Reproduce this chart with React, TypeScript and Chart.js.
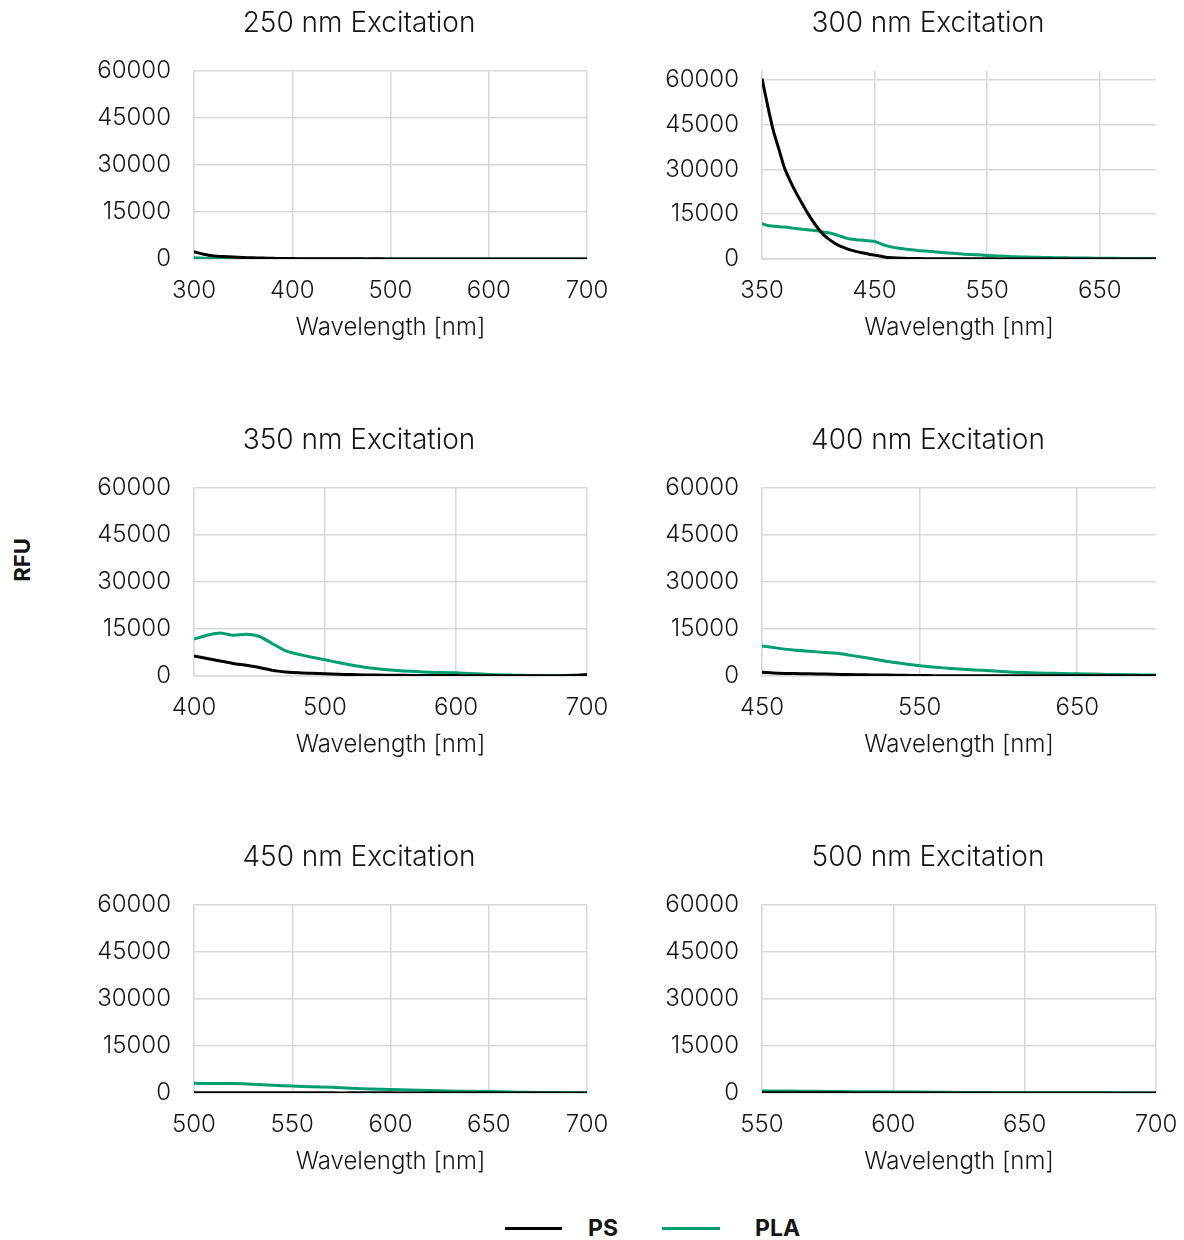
import React, { useEffect, useRef } from 'react';
import { Chart, registerables } from 'chart.js';

Chart.register(...registerables);

const FONT = 'Inter, Lato, "Open Sans", sans-serif';
const TEXT = '#151515';
const GRID = '#d9d9d9';
const PS_COLOR = '#000000';
const PLA_COLOR = '#009E73';

// ---------- data ----------
const SERIES_NAMES = ['PS', 'PLA'];
const Y_TICKS = [0, 15000, 30000, 45000, 60000];

// 250 nm excitation
const WL_250 = [300, 310, 320, 330, 340, 350, 360, 370, 380, 390, 400, 410, 420, 430, 440, 450, 460, 470, 480, 490, 500, 510, 520, 530, 540, 550, 560, 570, 580, 590, 600, 610, 620, 630, 640, 650, 660, 670, 680, 690, 700];
const PS_250 = [2300, 1500, 1000, 800, 650, 500, 380, 280, 220, 160, 120, 100, 80, 70, 60, 50, 50, 40, 40, 40, 30, 30, 30, 30, 30, 30, 30, 30, 30, 30, 30, 30, 30, 30, 30, 30, 30, 30, 30, 30, 30];
const PLA_250 = [400, 250, 150, 100, 60, 40, 30, 20, 20, 20, 20, 20, 20, 20, 20, 20, 20, 20, 20, 20, 20, 20, 20, 20, 20, 20, 20, 20, 20, 20, 20, 20, 20, 20, 20, 20, 20, 20, 20, 20, 20];
const XT_250 = [300, 400, 500, 600, 700];

// 300 nm excitation
const WL_300 = [350, 355, 360, 365, 370, 375, 380, 385, 390, 395, 400, 405, 410, 415, 420, 425, 430, 435, 440, 445, 450, 460, 470, 480, 490, 500, 510, 520, 530, 540, 550, 560, 570, 580, 590, 600, 610, 620, 630, 640, 650, 660, 670, 680, 690, 700];
const PS_300 = [60500, 51400, 43100, 36800, 30500, 26200, 22400, 19000, 15700, 12800, 10200, 8000, 6500, 5200, 4200, 3500, 2900, 2400, 2000, 1600, 1300, 600, 350, 200, 150, 100, 80, 70, 60, 50, 50, 40, 40, 30, 30, 30, 30, 30, 30, 30, 30, 30, 30, 30, 30, 30];
const PLA_300 = [11900, 11200, 11000, 10800, 10700, 10500, 10200, 10000, 9800, 9600, 9400, 9000, 8700, 8200, 7600, 7000, 6600, 6400, 6300, 6100, 5900, 4500, 3700, 3200, 2800, 2500, 2200, 1900, 1600, 1400, 1200, 1000, 800, 700, 600, 500, 450, 400, 350, 300, 250, 220, 200, 180, 150, 150];
const XT_300 = [350, 450, 550, 650];

// 350 nm excitation
const WL_350 = [400, 410, 420, 430, 440, 450, 460, 470, 480, 490, 500, 510, 520, 530, 540, 550, 560, 570, 580, 590, 600, 610, 620, 630, 640, 650, 660, 670, 680, 690, 700];
const PS_350 = [6400, 5600, 4800, 4000, 3400, 2700, 1800, 1300, 1000, 850, 700, 550, 450, 350, 300, 250, 200, 180, 150, 130, 120, 110, 100, 100, 90, 90, 80, 80, 100, 200, 450];
const PLA_350 = [11800, 13000, 13700, 13000, 13300, 12600, 10300, 8000, 6900, 6000, 5200, 4300, 3500, 2800, 2300, 1900, 1600, 1400, 1200, 1100, 1000, 800, 600, 400, 300, 200, 150, 100, 80, 60, 50];
const XT_350 = [400, 500, 600, 700];

// 400 nm excitation
const WL_400 = [450, 460, 470, 480, 490, 500, 510, 520, 530, 540, 550, 560, 570, 580, 590, 600, 610, 620, 630, 640, 650, 660, 670, 680, 690, 700];
const PS_400 = [1200, 900, 800, 700, 600, 500, 400, 350, 300, 200, 150, 100, 100, 90, 80, 70, 60, 60, 50, 50, 50, 50, 50, 50, 50, 50];
const PLA_400 = [9600, 8900, 8300, 7900, 7500, 7100, 6300, 5500, 4600, 3900, 3300, 2800, 2400, 2100, 1800, 1500, 1200, 1000, 900, 800, 700, 600, 500, 400, 350, 300];
const XT_400 = [450, 550, 650];

// 450 nm excitation
const WL_450 = [500, 510, 520, 530, 540, 550, 560, 570, 580, 590, 600, 610, 620, 630, 640, 650, 660, 670, 680, 690, 700];
const PS_450 = [60, 60, 60, 50, 50, 50, 50, 40, 40, 40, 40, 30, 30, 30, 30, 30, 30, 30, 30, 30, 30];
const PLA_450 = [3100, 3000, 3000, 2800, 2500, 2200, 2000, 1800, 1500, 1300, 1100, 950, 800, 650, 550, 450, 300, 200, 150, 100, 80];
const XT_450 = [500, 550, 600, 650, 700];

// 500 nm excitation
const WL_500 = [550, 560, 570, 580, 590, 600, 610, 620, 630, 640, 650, 660, 670, 680, 690, 700];
const PS_500 = [40, 40, 40, 40, 30, 30, 30, 30, 30, 30, 30, 30, 30, 30, 30, 30];
const PLA_500 = [600, 600, 550, 450, 400, 350, 300, 200, 150, 100, 80, 60, 50, 40, 30, 20];
const XT_500 = [550, 600, 650, 700];

type Panel = {
  title: string;
  wl: number[];
  ps: number[];
  pla: number[];
  xTicks: number[];
  xMin: number;
  xMax: number;
  yMax: number;
  col: number;
  row: number;
};

const PANELS: Panel[] = [
  { title: '250 nm Excitation', wl: WL_250, ps: PS_250, pla: PLA_250, xTicks: XT_250, xMin: 300, xMax: 700, yMax: 60000, col: 0, row: 0 },
  { title: '300 nm Excitation', wl: WL_300, ps: PS_300, pla: PLA_300, xTicks: XT_300, xMin: 350, xMax: 700, yMax: 63000, col: 1, row: 0 },
  { title: '350 nm Excitation', wl: WL_350, ps: PS_350, pla: PLA_350, xTicks: XT_350, xMin: 400, xMax: 700, yMax: 60000, col: 0, row: 1 },
  { title: '400 nm Excitation', wl: WL_400, ps: PS_400, pla: PLA_400, xTicks: XT_400, xMin: 450, xMax: 700, yMax: 60000, col: 1, row: 1 },
  { title: '450 nm Excitation', wl: WL_450, ps: PS_450, pla: PLA_450, xTicks: XT_450, xMin: 500, xMax: 700, yMax: 60000, col: 0, row: 2 },
  { title: '500 nm Excitation', wl: WL_500, ps: PS_500, pla: PLA_500, xTicks: XT_500, xMin: 550, xMax: 700, yMax: 60000, col: 1, row: 2 },
];

// layout geometry (canvas boxes)
const COLS = [
  { left: 90, width: 530, padL: 41, padR: 33, yAxisW: 63 },
  { left: 660, width: 524, padL: 40, padR: 28, yAxisW: 62 },
];
const ROW_TOPS = [0, 417, 834];
const CANVAS_H = 342;
const X_AXIS_H = 83;

function ChartPanel({ p }: { p: Panel }) {
  const ref = useRef<HTMLCanvasElement | null>(null);
  const col = COLS[p.col];
  useEffect(() => {
    if (!ref.current) return;
    const toPts = (vals: number[]) => p.wl.map((x, i) => ({ x, y: vals[i] }));
    const chart = new Chart(ref.current, {
      type: 'line',
      data: {
        datasets: [
          { label: SERIES_NAMES[0], data: toPts(p.ps), borderColor: PS_COLOR, borderWidth: 3, pointRadius: 0, tension: 0.2, fill: false },
          { label: SERIES_NAMES[1], data: toPts(p.pla), borderColor: PLA_COLOR, borderWidth: 3, pointRadius: 0, tension: 0.2, fill: false },
        ],
      },
      options: {
        responsive: false,
        animation: false,
        layout: { padding: { left: col.padL, right: col.padR, top: 0, bottom: 0 } },
        plugins: {
          legend: { display: false },
          tooltip: { enabled: false },
          title: {
            display: true,
            text: p.title,
            color: TEXT,
            font: { family: FONT, size: 28, weight: '300' as any, lineHeight: 1.2 },
            padding: { top: 6.7, bottom: 30.7 },
          },
        },
        scales: {
          x: {
            type: 'linear',
            min: p.xMin,
            max: p.xMax,
            afterBuildTicks: (s: any) => { s.ticks = p.xTicks.map((v) => ({ value: v })); },
            afterFit: (s: any) => { s.paddingLeft = 0; s.paddingRight = 0; s.height = X_AXIS_H; },
            grid: { color: GRID, lineWidth: 1.5, drawTicks: false },
            border: { display: true, color: GRID, width: 1.5 },
            ticks: { color: TEXT, font: { family: FONT, size: 24, weight: '300' as any }, padding: 17, maxRotation: 0, autoSkip: false },
            title: { display: true, text: 'Wavelength [nm]', color: TEXT, font: { family: FONT, size: 24, weight: '300' as any }, padding: { top: 0, bottom: 0 } },
          },
          y: {
            min: 0,
            max: p.yMax,
            afterBuildTicks: (s: any) => { s.ticks = Y_TICKS.map((v) => ({ value: v })); },
            afterFit: (s: any) => {
              s.width = col.yAxisW;
              s.paddingTop = 0;
              s.paddingBottom = 0;
              // let the tick labels extend into the layout padding instead of being clipped to the narrow axis box
              s._computeLabelArea = () => undefined;
            },
            grid: { color: GRID, lineWidth: 1.5, drawTicks: false },
            border: { display: true, color: GRID, width: 1.5 },
            ticks: { color: TEXT, font: { family: FONT, size: 24, weight: '300' as any }, padding: 23, callback: (v: any) => String(v) },
          },
        },
      },
    });
    return () => chart.destroy();
  }, [p]);
  return (
    <canvas
      ref={ref}
      width={col.width}
      height={CANVAS_H}
      style={{ position: 'absolute', left: col.left, top: ROW_TOPS[p.row], width: col.width, height: CANVAS_H, display: 'block' }}
    />
  );
}

export default function App() {
  return (
    <div style={{ position: 'absolute', left: 0, top: 0, width: 1184, height: 1240, background: '#fff', fontFamily: FONT, color: TEXT }}>
      {PANELS.map((p) => (
        <ChartPanel key={p.title} p={p} />
      ))}
      <div
        style={{
          position: 'absolute', left: 22, top: 560, transform: 'translate(-50%, -50%) rotate(-90deg)',
          fontWeight: 700, fontSize: 22, whiteSpace: 'nowrap', lineHeight: 1,
        }}
      >
        RFU
      </div>
      <div style={{ position: 'absolute', left: 505, top: 1226.5, width: 57, height: 3, background: PS_COLOR }} />
      <div style={{ position: 'absolute', left: 588, top: 1228, transform: 'translateY(-50%)', fontWeight: 700, fontSize: 23, lineHeight: 1 }}>{SERIES_NAMES[0]}</div>
      <div style={{ position: 'absolute', left: 662, top: 1226.5, width: 58, height: 3, background: PLA_COLOR }} />
      <div style={{ position: 'absolute', left: 755, top: 1228, transform: 'translateY(-50%)', fontWeight: 700, fontSize: 23, lineHeight: 1 }}>{SERIES_NAMES[1]}</div>
    </div>
  );
}
